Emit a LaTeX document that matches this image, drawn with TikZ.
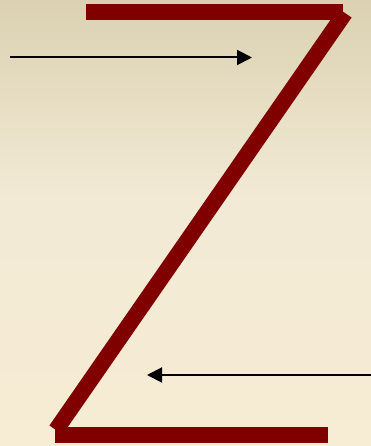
\documentclass[tikz,border=0pt]{standalone}
\usetikzlibrary{arrows.meta}
\definecolor{bgtop}{RGB}{219,209,178}
\definecolor{bgmid}{RGB}{242,234,213}
\definecolor{bgbot}{RGB}{247,236,212}
\definecolor{zred}{RGB}{128,0,0}
\tikzset{
  zstroke/.style={draw=zred, line width=16pt, line cap=butt},
  arrowline/.style={draw=black, line width=2pt, -{Triangle[length=15pt,width=15pt]}}
}
\begin{document}
\begin{tikzpicture}[x=1pt,y=-1pt]
\useasboundingbox (0,0) rectangle (371,446);
\shade[top color=bgtop, bottom color=bgmid] (0,0) rectangle (371,200);
\shade[top color=bgmid, bottom color=bgbot] (0,199.5) rectangle (371,446);
% Z shape
\coordinate (tl) at (86,12);
\coordinate (tr) at (343,12);
\coordinate (dtop) at (345,13);
\coordinate (dbot) at (56,430);
\coordinate (bl) at (55,435);
\coordinate (br) at (328,435);
\draw[zstroke] (tl) -- (tr);
\draw[zstroke] (dtop) -- (dbot);
\draw[zstroke] (bl) -- (br);
% arrows
\coordinate (a1s) at (10,57.5);
\coordinate (a1e) at (252,57.5);
\coordinate (a2s) at (372,375);
\coordinate (a2e) at (147,375);
\draw[arrowline] (a1s) -- (a1e);
\draw[arrowline] (a2s) -- (a2e);
\end{tikzpicture}
\end{document}
